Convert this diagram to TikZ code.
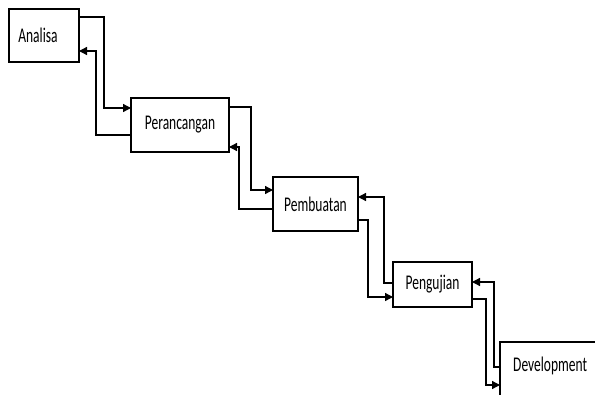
\documentclass[tikz,border=0pt]{standalone}
\usepackage{fontspec}
\setmainfont{Carlito}
\usetikzlibrary{arrows.meta}
\newcommand{\tallword}[1]{\scalebox{1}[1.55]{#1}}
\begin{document}
\begin{tikzpicture}
[x=1pt, y=-1pt,
 stage/.style={draw, line width=1.4pt, inner sep=0pt, outer sep=0pt, anchor=north west,
   font=\fontsize{13.5}{16}\selectfont},
 flow/.style={line width=1.3pt, -{Triangle[length=8pt,width=8pt]}}]
\useasboundingbox (0,0) rectangle (595,394);
\clip (0,0) rectangle (595,394);
% the stages
\node [stage, minimum width=70pt, minimum height=53pt] (ana) at (9,9) {\tallword{Analisa}\hspace*{12pt}};
\node [stage, minimum width=98pt, minimum height=54pt] (per) at (131,98) {\tallword{Perancangan}};
\node [stage, minimum width=85pt, minimum height=54pt] (pem) at (273,177) {\tallword{Pembuatan}};
\node [stage, minimum width=79pt, minimum height=45pt] (pen) at (393,262) {\tallword{Pengujian}};
\node [stage, minimum width=110pt, minimum height=80pt] (dev) at (500,342) {};
\node [anchor=west, inner sep=0pt, font=\fontsize{13.5}{16}\selectfont] (devtext) at ([xshift=13pt,yshift=-24pt]dev.north west) {\tallword{Development}};
% forward
\draw [flow] ([yshift=-8pt]ana.north east) -- ++(25,0) |- ([yshift=-10pt]per.north west);
\draw [flow] ([yshift=-9pt]per.north east) -- ++(22,0) |- ([yshift=-13pt]pem.north west);
\draw [flow] ([yshift=11pt]pem.south east) -- ++(10,0) |- ([yshift=10pt]pen.south west);
\draw [flow] ([yshift=8pt]pen.south east) -- ++(14,0) |- ([yshift=-43pt]dev.north west);
% back
\draw [flow] ([yshift=17pt]per.south west) -- ++(-35,0) |- ([yshift=11pt]ana.south east);
\draw [flow] ([yshift=-32pt]pem.north west) -- ++(-34,0) |- ([yshift=5pt]per.south east);
\draw [flow] ([yshift=-21pt]pen.north west) -- ++(-9,0) |- ([yshift=-20pt]pem.north east);
\draw [flow] ([yshift=-25pt]dev.north west) -- ++(-6,0) |- ([yshift=-20pt]pen.north east);
\end{tikzpicture}
\end{document}
